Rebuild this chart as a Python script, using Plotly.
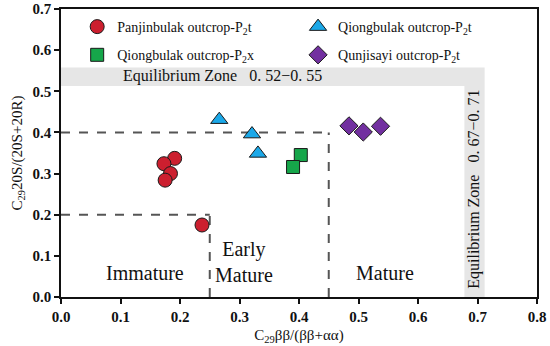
import plotly.graph_objects as go

# ---- data ----
pan_x = [0.191, 0.173, 0.184, 0.175, 0.237]
pan_y = [0.337, 0.324, 0.300, 0.284, 0.175]
qt_x = [0.266, 0.321, 0.331]
qt_y = [0.431, 0.396, 0.349]
qx_x = [0.403, 0.390]
qx_y = [0.345, 0.316]
qun_x = [0.484, 0.508, 0.537]
qun_y = [0.416, 0.401, 0.415]

x_ticks = [0.0, 0.1, 0.2, 0.3, 0.4, 0.5, 0.6, 0.7, 0.8]
y_ticks = [0.0, 0.1, 0.2, 0.3, 0.4, 0.5, 0.6, 0.7]

SERIF = "Times New Roman, Liberation Serif, DejaVu Serif, serif"
edge = dict(color="#1a1a1a", width=1)

fig = go.Figure()
fig.add_trace(go.Scatter(x=pan_x, y=pan_y, mode="markers", name="Panjinbulak outcrop-P<sub>2</sub>t",
                         legend="legend", legendgroup="a",
                         marker=dict(symbol="circle", size=14, color="#CC1F2F", line=edge)))
fig.add_trace(go.Scatter(x=qx_x, y=qx_y, mode="markers", name="Qiongbulak outcrop-P<sub>2</sub>x",
                         legend="legend", legendgroup="b",
                         marker=dict(symbol="square", size=13, color="#16A64A", line=edge)))
fig.add_trace(go.Scatter(x=qt_x, y=qt_y, mode="markers", name="Qiongbulak outcrop-P<sub>2</sub>t",
                         legend="legend2", legendgroup="c",
                         marker=dict(symbol="triangle-up", size=15, color="#1BA8E8", line=edge)))
fig.add_trace(go.Scatter(x=qun_x, y=qun_y, mode="markers", name="Qunjisayi outcrop-P<sub>2</sub>t",
                         legend="legend2", legendgroup="d",
                         marker=dict(symbol="diamond", size=14, color="#7230A0", line=edge)))

gray = "#E6E6E6"
dash_line = dict(color="#555555", width=2, dash="dash")
shapes = [
    dict(type="rect", xref="x", yref="y", x0=0, x1=0.712, y0=0.513, y1=0.558, fillcolor=gray, line=dict(width=0), layer="below"),
    dict(type="rect", xref="x", yref="y", x0=0.678, x1=0.712, y0=0, y1=0.513, fillcolor=gray, line=dict(width=0), layer="below"),
    dict(type="line", xref="x", yref="y", x0=0, x1=0.45, y0=0.4, y1=0.4, line=dash_line, layer="below"),
    dict(type="line", xref="x", yref="y", x0=0.45, x1=0.45, y0=0, y1=0.4, line=dash_line, layer="below"),
    dict(type="line", xref="x", yref="y", x0=0, x1=0.25, y0=0.2, y1=0.2, line=dash_line, layer="below"),
    dict(type="line", xref="x", yref="y", x0=0.25, x1=0.25, y0=0, y1=0.2, line=dash_line, layer="below"),
]

zone_font = dict(family=SERIF, size=20, color="#111111")
annots = [
    dict(x=0.141, y=0.058, text="Immature", showarrow=False, font=zone_font),
    dict(x=0.308, y=0.084, text="Early<br>Mature", showarrow=False, font=zone_font),
    dict(x=0.544, y=0.058, text="Mature", showarrow=False, font=zone_font),
    dict(x=0.271, y=0.537, text="Equilibrium Zone   0. 52−0. 55", showarrow=False,
         font=dict(family=SERIF, size=16, color="#111111")),
    dict(x=0.695, y=0.262, text="Equilibrium Zone   0. 67−0. 71", showarrow=False, textangle=-90,
         font=dict(family=SERIF, size=16, color="#111111")),
]

axis_common = dict(showgrid=False, zeroline=False, showline=True, linecolor="#111111", linewidth=1.5,
                   mirror=True, ticks="outside", ticklen=5, tickwidth=1.5, tickcolor="#111111",
                   automargin=False,
                   tickfont=dict(family=SERIF, size=15, color="#111111", weight="bold"))

fig.update_layout(
    width=550, height=346,
    margin=dict(l=61, r=13, t=9, b=49, autoexpand=False),
    paper_bgcolor="white", plot_bgcolor="white",
    shapes=shapes, annotations=annots,
    xaxis=dict(range=[0, 0.8], tickvals=x_ticks, ticktext=[f"{v:.1f}" for v in x_ticks],
               title=dict(text="C<sub>29</sub>ββ/(ββ+αα)", font=dict(family=SERIF, size=15, color="#111111"), standoff=6),
               **axis_common),
    yaxis=dict(range=[0, 0.7], tickvals=y_ticks, ticktext=[f"{v:.1f}" for v in y_ticks],
               title=dict(text="C<sub>29</sub>20S/(20S+20R)", font=dict(family=SERIF, size=15, color="#111111"), standoff=6),
               **axis_common),
    legend=dict(x=0.034, y=0.993, xanchor="left", yanchor="top", bgcolor="rgba(0,0,0,0)",
                font=dict(family=SERIF, size=14, color="#111111"), tracegroupgap=7, itemsizing="trace"),
    legend2=dict(x=0.498, y=0.993, xanchor="left", yanchor="top", bgcolor="rgba(0,0,0,0)",
                 font=dict(family=SERIF, size=14, color="#111111"), tracegroupgap=7, itemsizing="trace"),
)

fig.write_html("out.html", config={"displayModeBar": False},
               post_script="document.body.style.margin='0';document.body.style.padding='0';")
